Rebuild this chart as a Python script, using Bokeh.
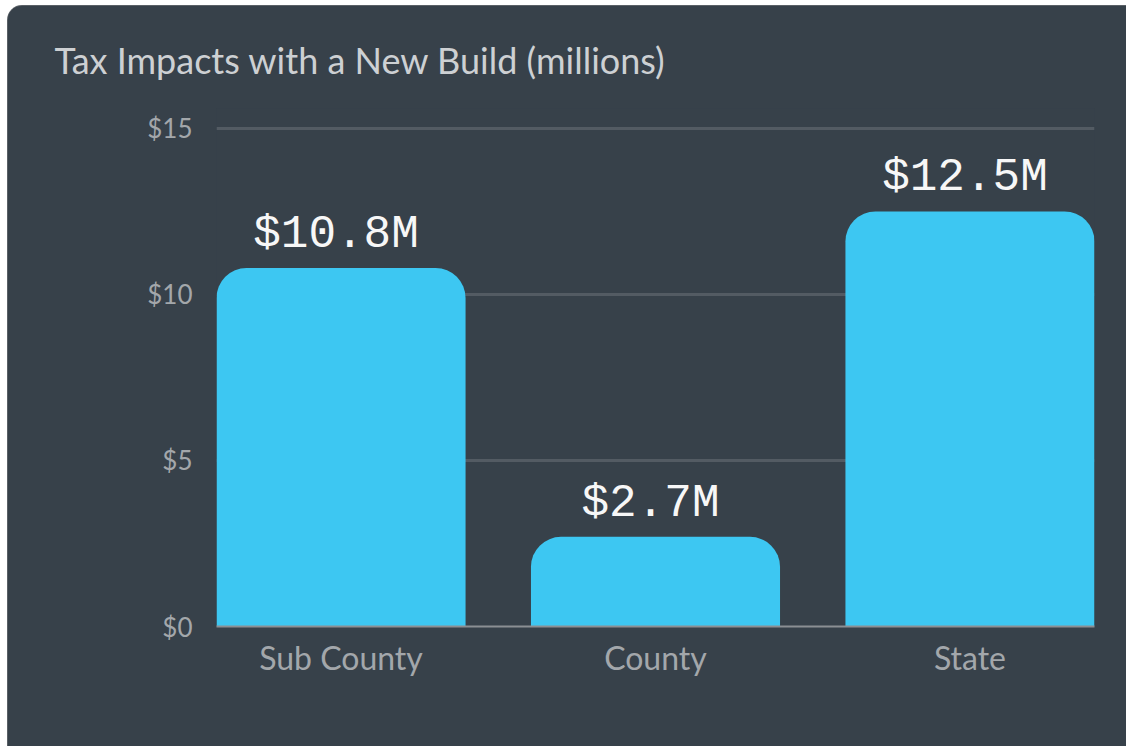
from bokeh.plotting import figure
from bokeh.models import Range1d, FixedTicker, LabelSet, ColumnDataSource
from bokeh.core.properties import value
from bokeh.embed import file_html
from bokeh.resources import INLINE

categories = ["Sub County", "County", "State"]
values = [10.8, 2.7, 12.5]
value_labels = ["$10.8M", "$2.7M", "$12.5M"]
y_ticks = [0, 5, 10, 15]
y_tick_labels = ["$0", "$5", "$10", "$15"]
grid_ticks = [5, 10, 15]
title_text = "Tax Impacts with a New Build (millions)"

BG = "#37414a"
BAR = "#3dc7f2"
x = list(range(len(categories)))
src = ColumnDataSource(dict(x=x, top=values, label=value_labels))

p = figure(width=1118, height=740, output_backend="svg", toolbar_location=None,
           x_range=Range1d(-0.396, 2.396), y_range=Range1d(0, 15.6),
           min_border_left=208, min_border_right=32, min_border_top=102,
           min_border_bottom=120)
p.background_fill_color = BG
p.border_fill_color = BG
p.outline_line_color = None
p.styles = {"border-top-left-radius": "14px", "overflow": "hidden",
            "background-color": BG, "margin-left": "8px", "margin-top": "6px",
            "box-shadow": "0 0 0 1px #5a6066"}

p.title.text = title_text
p.title.text_font = "Lato"
p.title.text_font_size = "36px"
p.title.text_font_style = "normal"
p.title.text_color = "#cdd0d3"
p.title.align = "left"
p.title.offset = -162
p.title.standoff = 54

p.xgrid.visible = False
p.ygrid.ticker = FixedTicker(ticks=grid_ticks)
p.ygrid.grid_line_color = "#535b63"
p.ygrid.grid_line_width = 3

p.vbar(x="x", top="top", bottom=0, width=0.792, source=src, fill_color=BAR,
       line_color=None, border_radius=(30, 30, 0, 0))

labels = LabelSet(x="x", y="top", text="label", source=src, text_align="center",
                  text_baseline="alphabetic", y_offset=21, x_offset=-5,
                  text_font=value("Liberation Mono"), text_font_size="46px",
                  text_color="#f7f7f7")
p.add_layout(labels)

ya = p.yaxis[0]
ya.ticker = FixedTicker(ticks=y_ticks)
ya.major_label_overrides = {t: l for t, l in zip(y_ticks, y_tick_labels)}
ya.axis_line_color = None
ya.major_tick_line_color = None
ya.minor_tick_line_color = None
ya.major_label_standoff = 18
ya.major_label_text_font = "Lato"
ya.major_label_text_font_size = "26px"
ya.major_label_text_color = "#a3a7ab"

xa = p.xaxis[0]
xa.ticker = FixedTicker(ticks=x)
xa.major_label_overrides = {i: c for i, c in zip(x, categories)}
xa.axis_line_color = "#8b8f93"
xa.axis_line_width = 2
xa.major_tick_line_color = None
xa.minor_tick_line_color = None
xa.major_label_standoff = 5
xa.major_label_text_font = "Lato"
xa.major_label_text_font_size = "32px"
xa.major_label_text_color = "#a3a7ab"

open("out.html", "w").write(file_html(p, INLINE))
